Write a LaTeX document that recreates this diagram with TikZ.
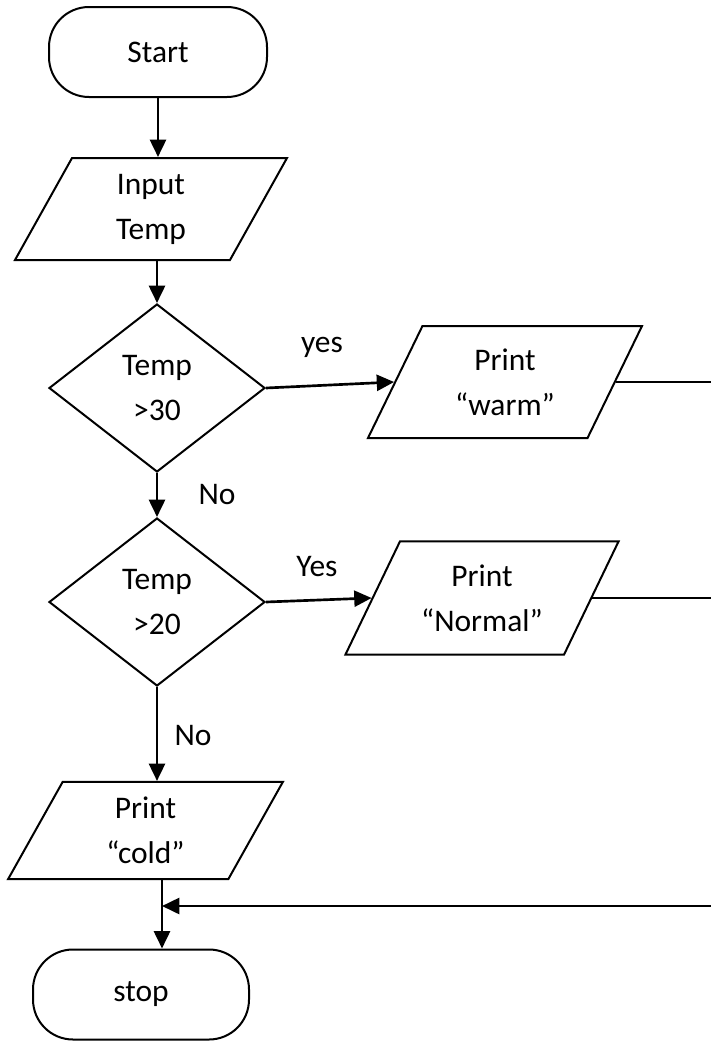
\documentclass[tikz,border=0pt]{standalone}
\usepackage{fontspec}
\setmainfont{Carlito}
\usepackage{tikz}
\usetikzlibrary{shapes.geometric,arrows.meta}

\begin{document}
\begin{tikzpicture}[x=0.375pt, y=-0.375pt]

% Set the overall frame of the chart
\useasboundingbox (0,0) rectangle (710,1042);

% Define styles for the boxes of the chart
\tikzstyle{terminal} = [rectangle, rounded corners=15pt, draw, line width=0.75pt, minimum width=81.75pt, minimum height=33.75pt, font=\fontsize{11.8}{16.9}\selectfont]
\tikzstyle{io} = [trapezium, trapezium left angle=53, trapezium right angle=127, trapezium stretches body=true, draw, line width=0.75pt, align=center, inner sep=1pt, font=\fontsize{11.8}{16.9}\selectfont]
\tikzstyle{decision} = [diamond, draw, line width=0.75pt, align=center, inner sep=0pt, minimum width=81pt, minimum height=63pt, font=\fontsize{11.8}{16.9}\selectfont]

%Define arrows and labels of the branches
\tikzstyle{flow} = [line width=1pt, -{Triangle[length=6.5pt, width=6pt]}]
\tikzstyle{line} = [line width=0.8pt]
\tikzstyle{label} = [font=\fontsize{11.8}{16.9}\selectfont]

\node[terminal] (start) at (158,52) {Start};
\node[io, minimum width=102pt, minimum height=38.25pt] (input) at (151,209) {Input\\Temp};
\node[decision] (d1) at (157,388) {Temp\\>30};
\node[decision] (d2) at (157,602) {Temp\\>20};
\node[io, minimum width=102.75pt, minimum height=42pt] (warm) at (505,382) {Print\\“warm”};
\node[io, minimum width=102.4pt, minimum height=42.4pt] (normal) at (482,598) {Print\\“Normal”};
\node[io, minimum width=103pt, minimum height=36.4pt] (cold) at (145.5,830.5) {Print\\“cold”};
\node[terminal, minimum width=81pt] (stop) at (141,994.5) {stop};

% Branch labels
\node[label] (yes1) at (322,347) {yes};
\node[label] (no1) at (217,495) {No};
\node[label] (yes2) at (317,567) {Yes};
\node[label] (no2) at (193,736) {No};

% Points where the lines leave the page and come back
\coordinate (rail) at (712,0);
\coordinate (merge) at (162,906);

\draw[flow] (start.south) -- (start.south |- input.north);
\draw[flow] (d1.north |- input.south) -- (d1.north);
\draw[flow] (d1.south) -- (d2.north);
\draw[flow] (d2.south) -- (d2.south |- cold.north);
\draw[flow] (d1.east) -- (warm.west);
\draw[flow] (d2.east) -- (normal.west);
\draw[line] (normal.east) -- (normal.east -| rail);
\draw[flow] (warm.east) -- (warm.east -| rail) -- (rail |- merge) -- (merge);
\draw[line] (merge |- cold.south) -- (merge);
\draw[flow] (merge) -- (merge |- stop.north);

\end{tikzpicture}
\end{document}
